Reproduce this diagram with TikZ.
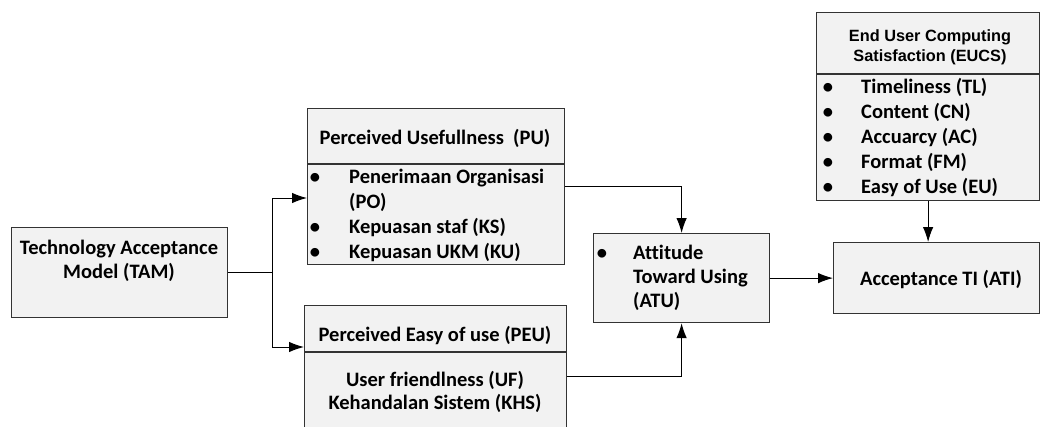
\documentclass[tikz,border=0pt]{standalone}
\usepackage{fontspec}
\setmainfont{Carlito}[Ligatures={NoCommon}]
\newfontfamily\arialfont{Liberation Sans}
\usetikzlibrary{arrows.meta}
\definecolor{boxfill}{HTML}{F2F2F2}
\definecolor{boxline}{HTML}{333333}
\begin{document}
\begin{tikzpicture}[x=1pt,y=-1pt,
  box/.style={draw=boxline, fill=boxfill, line width=1.2pt, inner sep=0pt, anchor=north west},
  divider/.style={draw=boxline, line width=1.2pt},
  conn/.style={draw=black, line width=1pt},
  arr/.style={conn, -{Latex[length=15pt,width=10.5pt]}},
  txt/.style={font=\bfseries\fontsize{20.5}{25}\selectfont, inner sep=0pt, text=black},
  ctxt/.style={txt, anchor=base},
  ltxt/.style={txt, anchor=base west},
  bul/.style={txt, anchor=base},
  htxt/.style={font=\arialfont\bfseries\fontsize{16.3}{20}\selectfont, inner sep=0pt, anchor=base, text=black}]
\useasboundingbox (0,0) rectangle (1040,426);
\clip (0,0) rectangle (1040,426);

% boxes
\node[box, minimum width=216pt, minimum height=90pt] (tam) at (11,227) {};
\node[box, minimum width=257pt, minimum height=156pt] (pu) at (307,108) {};
\node[box, minimum width=262pt, minimum height=142pt] (peu) at (304,305) {};
\node[box, minimum width=176pt, minimum height=89pt] (atu) at (593,233) {};
\node[box, minimum width=206pt, minimum height=71pt] (ati) at (833,242) {};
\node[box, minimum width=223pt, minimum height=188pt] (eucs) at (816,12) {};

% dividers
\draw[divider] (pu.west |- 0,164) -- (pu.east |- 0,164);
\draw[divider] (peu.west |- 0,352) -- (peu.east |- 0,352);
\draw[divider] (eucs.west |- 0,74) -- (eucs.east |- 0,74);

% TAM
\node[ctxt] (tam1) at (119,254) {Technology Acceptance};
\node[ctxt] (tam2) at (119,278) {Model (TAM)};

% PU
\node[ctxt] (puh) at (435,144) {Perceived Usefullness\ \ (PU)};
\node[bul] (pub1) at (315,183) {•};
\node[ltxt] (pu1) at (349,183) {Penerimaan Organisasi};
\node[ltxt] (pu1b) at (349,208) {(PO)};
\node[bul] (pub2) at (315,233) {•};
\node[ltxt] (pu2) at (349,233) {Kepuasan staf (KS)};
\node[bul] (pub3) at (315,258) {•};
\node[ltxt] (pu3) at (349,258) {Kepuasan UKM (KU)};

% PEU
\node[ctxt] (peuh) at (435,341) {Perceived Easy of use (PEU)};
\node[ctxt] (peu1) at (435,386) {User friendlness (UF)};
\node[ctxt] (peu2) at (435,409) {Kehandalan Sistem (KHS)};

% ATU
\node[bul] (atub) at (602,259) {•};
\node[ltxt] (atu1) at (633,259) {Attitude};
\node[ltxt] (atu2) at (633,283) {Toward Using};
\node[ltxt] (atu3) at (633,307) {(ATU)};

% ATI
\node[ctxt] (ati1) at (941,285) {Acceptance TI (ATI)};

% EUCS
\node[htxt] (eh1) at (930,41) {End User Computing};
\node[htxt] (eh2) at (930,61) {Satisfaction (EUCS)};
\node[bul] (eb1) at (828,93) {•};
\node[ltxt] (e1) at (861,93) {Timeliness (TL)};
\node[bul] (eb2) at (828,118) {•};
\node[ltxt] (e2) at (861,118) {Content (CN)};
\node[bul] (eb3) at (828,143) {•};
\node[ltxt] (e3) at (861,143) {Accuarcy (AC)};
\node[bul] (eb4) at (828,168) {•};
\node[ltxt] (e4) at (861,168) {Format (FM)};
\node[bul] (eb5) at (828,193) {•};
\node[ltxt] (e5) at (861,193) {Easy of Use (EU)};

% connectors
\coordinate (jt) at (272,198);
\coordinate (jb) at (272,347);
\draw[conn] (tam.east) -- (tam.east -| jt);
\draw[conn] (jt) -- (jb);
\draw[arr] (jt) -- (pu.west |- jt);
\draw[arr] (jb) -- (peu.west |- jb);
\draw[arr] (pu.east) -| (atu.north);
\draw[arr] (peu.east) -| (atu.south);
\draw[arr] (atu.east) -- (ati.west);
\draw[arr] (eucs.south) -- (eucs.south |- ati.north);
\end{tikzpicture}
\end{document}
